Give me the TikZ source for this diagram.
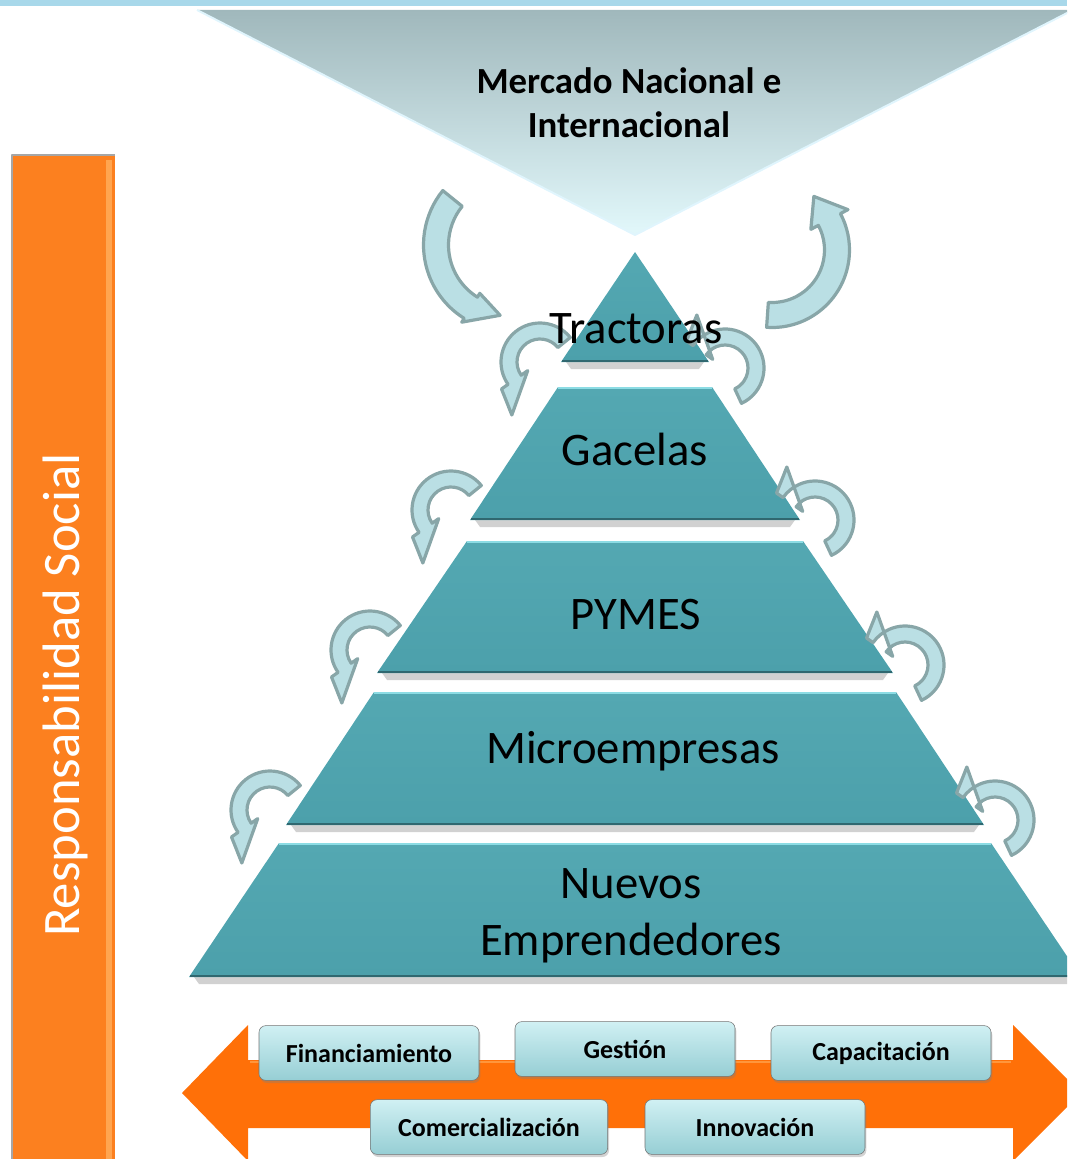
\documentclass[tikz,border=0pt]{standalone}
\usepackage{fontspec}
\setmainfont{Carlito}
\usepackage{tikz}
\usetikzlibrary{calc,shadows}
\definecolor{mysky}{RGB}{168,216,234}
\definecolor{mytritop}{RGB}{160,184,188}
\definecolor{mytribot}{RGB}{226,248,251}
\definecolor{myteal}{RGB}{76,160,171}
\definecolor{mytealtop}{RGB}{84,168,178}
\definecolor{mytealhi}{RGB}{140,220,228}
\definecolor{mytealdk}{RGB}{48,104,112}
\definecolor{myorange}{RGB}{252,128,31}
\definecolor{myorangehi}{RGB}{255,165,80}
\definecolor{myarrow}{RGB}{255,112,8}
\definecolor{myarrowtop}{RGB}{255,150,60}
\definecolor{myboxtop}{RGB}{208,240,243}
\definecolor{myboxbot}{RGB}{150,206,212}
\definecolor{myfill}{RGB}{186,223,228}
\definecolor{myedge}{RGB}{136,166,168}

% curved block arrow: centre, radius, band width, head half width, tail angle, head angle, tip (angle:radius)
\newcommand{\bendarrow}[7]{%
  \pgfmathsetmacro\bOut{#2+#3/2}%
  \pgfmathsetmacro\bIn{#2-#3/2}%
  \pgfmathsetmacro\hOut{#2+#4}%
  \pgfmathsetmacro\hIn{#2-#4}%
  \draw[curvearr] ($(#1)+(#5:\bOut)$) arc[start angle=#5,end angle=#6,radius=\bOut]
    -- ($(#1)+(#6:\hOut)$) -- ($(#1)+(#7)$) -- ($(#1)+(#6:\hIn)$)
    -- ($(#1)+(#6:\bIn)$) arc[start angle=#6,end angle=#5,radius=\bIn] -- cycle;}

\begin{document}
\begin{tikzpicture}[x=0.75pt,y=-0.75pt,line join=round]
	\tikzstyle{curvearr}=[fill=myfill,draw=myedge,line width=2.4pt];
	\tikzstyle{level}=[top color=mytealtop,bottom color=myteal];
	\tikzstyle{tier}=[font=\fontsize{35}{42.75}\selectfont,anchor=base];
	\tikzstyle{tool}=[draw=black!55,rounded corners=5pt,top color=myboxtop,bottom color=myboxbot,
		minimum width=165pt,minimum height=41pt,inner sep=0pt,
		drop shadow={opacity=0.35,shadow xshift=1pt,shadow yshift=-2pt},
		font=\fontsize{19.5}{23}\selectfont\bfseries];
	\useasboundingbox (0,0) rectangle (1067,1159);
	\clip (0,0) rectangle (1067,1159);
	\fill[mysky] (0,0) rectangle (1067,6);
	% market triangle
	\shade[top color=mytritop,bottom color=mytribot] (197,10) -- (1073,10) -- (635,235) -- cycle;
	\draw[white!60!cyan!30,line width=1.5pt] (197,10) -- (635,235) -- (1073,10);
	% social responsibility bar
	\fill[myorange] (12,155) rectangle (115,1165);
	\fill[myorangehi] (106,160) rectangle (112,1165);
	\draw[black!35,line width=1pt] (12,1165) -- (12,155) -- (115,155);
	% pyramid
	\foreach \yt/\yb/\wt/\wb in {252/362/0/74,387/520/77/165,541/673/168/258,692/825/261/349,843/977/356/446}{
		\fill[black,opacity=0.18] (640-\wb,\yb) -- (630+\wb,\yb) -- (625+\wb,\yb+7) -- (645-\wb,\yb+7) -- cycle;
		\shade[level] (635-\wt,\yt) -- (635+\wt,\yt) -- (635+\wb,\yb) -- (635-\wb,\yb) -- cycle;
		\draw[mytealhi,line width=2pt] (635-\wt,\yt+1) -- (635+\wt,\yt+1);
		\draw[mytealdk,line width=1.5pt] (636-\wb,\yb-1) -- (634+\wb,\yb-1);
	}
	% arrows round the pyramid
	\bendarrow{510,245}{74}{25}{17}{219}{122}{98:71}
	\bendarrow{772,250}{65}{25}{21}{94}{-28}{-52:68}
	\foreach \cx/\cy in {540/362,451/510,370/650,270/810}
		\bendarrow{\cx,\cy}{31}{16}{16}{-39}{-215}{-242:60};
	\foreach \cx/\cy in {725/368,815/520,905/665,995/820}
		\bendarrow{\cx,\cy}{31}{16}{16}{65}{-145}{-118:60};
	% support arrow
	\fill[myarrow] (182,1093) -- (248,1025) -- (248,1060) -- (1013,1060) -- (1013,1025) -- (1081,1093)
		-- (1013,1161) -- (1013,1128) -- (248,1128) -- (248,1161) -- cycle;
	\draw[myarrowtop,line width=2pt] (250,1062) -- (1011,1062);
	% texts
	\node[font=\fontsize{27.6}{33}\selectfont\bfseries,align=center] (mer) at (629,103) {Mercado Nacional e\\Internacional};
	\node[rotate=90,text=white,font=\fontsize{39.5}{45}\selectfont] (rs) at (65,695) {Responsabilidad Social};
	\node[tier] (tra) at (636,343) {Tractoras};
	\node[tier] (gac) at (635,465) {Gacelas};
	\node[tier] (pym) at (636,629) {PYMES};
	\node[tier] (mic) at (633,763) {Microempresas};
	\node[tier,anchor=center,align=center] (nue) at (631,916) {Nuevos\\Emprendedores};
	\node[tool] (fin) at (369,1053) {Financiamiento};
	\node[tool] (ges) at (625,1049) {Gestión};
	\node[tool] (cap) at (881,1053) {Capacitación};
	\node[tool,minimum width=178pt] (com) at (489,1127) {Comercialización};
	\node[tool] (inn) at (755,1127) {Innovación};
\end{tikzpicture}
\end{document}
